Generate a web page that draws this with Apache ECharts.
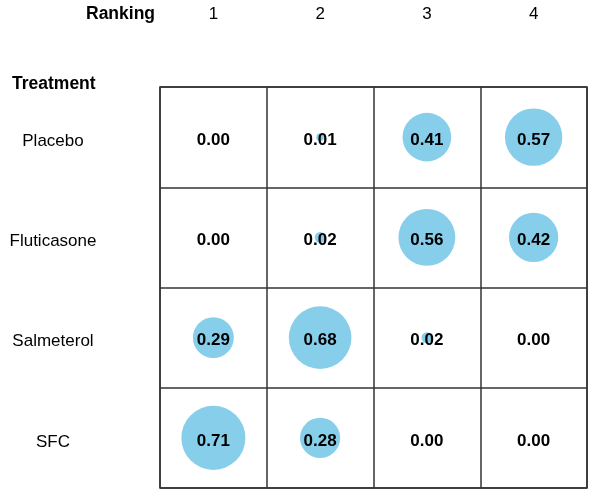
<!DOCTYPE html>
<html>
<head>
<meta charset="utf-8">
<script src="https://cdn.jsdelivr.net/npm/echarts@6/dist/echarts.min.js"></script>
<style>html,body{margin:0;padding:0;background:#fff;}#c{width:600px;height:503px;}</style>
</head>
<body>
<div id="c"></div>
<script>
var rankings = ['1', '2', '3', '4'];
var treatments = ['Placebo', 'Fluticasone', 'Salmeterol', 'SFC'];
var placebo = [0.00, 0.01, 0.41, 0.57];
var fluticasone = [0.00, 0.02, 0.56, 0.42];
var salmeterol = [0.29, 0.68, 0.02, 0.00];
var sfc = [0.71, 0.28, 0.00, 0.00];

var rows = [placebo, fluticasone, salmeterol, sfc];
var data = [];
rows.forEach(function (r, ri) {
  r.forEach(function (v, ci) {
    data.push([rankings[ci], treatments[ri], v]);
  });
});

var chart = echarts.init(document.getElementById('c'));
var FONT = 'Liberation Sans, Arial, sans-serif';
chart.setOption({
  animation: false,
  backgroundColor: '#fff',
  grid: {
    left: 160, right: 13, top: 87, bottom: 15,
    show: true, borderColor: '#333', borderWidth: 1.5, backgroundColor: 'transparent'
  },
  xAxis: {
    type: 'category', data: rankings, position: 'top',
    axisLine: { show: false }, axisTick: { show: false },
    splitLine: { show: true, interval: 0, lineStyle: { color: '#333', width: 1.5 } },
    axisLabel: { margin: 64, fontFamily: FONT, fontSize: 17, color: '#000' }
  },
  yAxis: {
    type: 'category', data: treatments, inverse: true,
    axisLine: { show: false }, axisTick: { show: false },
    splitLine: { show: true, interval: 0, lineStyle: { color: '#333', width: 1.5 } },
    axisLabel: {
      margin: 107, align: 'center',
      formatter: function (v) { return '{a|' + v + '}'; },
      rich: { a: { fontFamily: FONT, fontSize: 17, color: '#000', padding: [8, 0, 0, 0] } }
    }
  },
  graphic: [
    { type: 'text', left: 86, top: 5, style: { text: 'Ranking', font: 'bold 17.5px ' + FONT, fill: '#000' } },
    { type: 'text', left: 12, top: 75, style: { text: 'Treatment', font: 'bold 17.5px ' + FONT, fill: '#000' } }
  ],
  series: [{
    type: 'scatter',
    data: data,
    symbol: 'circle',
    symbolSize: function (d) { return 76 * Math.sqrt(d[2]); },
    itemStyle: { color: '#87CEEB', opacity: 1 },
    label: {
      show: true, position: 'inside', offset: [0, 3],
      formatter: function (p) { return p.value[2].toFixed(2); },
      fontFamily: FONT, fontWeight: 'bold', fontSize: 17, color: '#000'
    },
    emphasis: { disabled: true }
  }]
});
</script>
</body>
</html>
